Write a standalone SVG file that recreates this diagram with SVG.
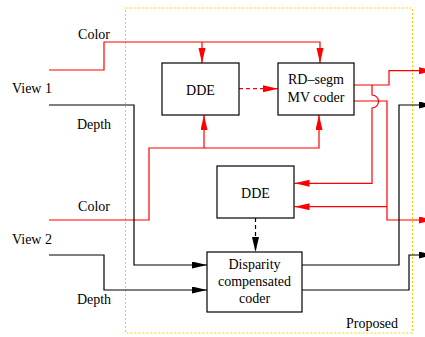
<svg xmlns="http://www.w3.org/2000/svg" width="425" height="337" viewBox="0 0 425 337">
<style>
text{font-family:"Liberation Serif","Times New Roman",serif;font-size:14px;fill:#000}
.box{fill:#fff;stroke:#000;stroke-width:1.2}
.r{fill:none;stroke:#f00;stroke-width:1.2}
.k{fill:none;stroke:#000;stroke-width:1.2}
.rd{fill:none;stroke:#f00;stroke-width:1.2;stroke-dasharray:4 3}
.kd{fill:none;stroke:#000;stroke-width:1.2;stroke-dasharray:4 3}
.ra{marker-end:url(#ar)}
.ka{marker-end:url(#ak)}
.c{text-anchor:middle}
</style>
<defs>
<marker id="ar" markerUnits="userSpaceOnUse" markerWidth="16" markerHeight="8" refX="15" refY="3.5" orient="auto"><path d="M0,0 L15,3.5 L0,7 z" fill="#f00"/></marker>
<marker id="ak" markerUnits="userSpaceOnUse" markerWidth="16" markerHeight="8" refX="15" refY="3.5" orient="auto"><path d="M0,0 L15,3.5 L0,7 z" fill="#000"/></marker>
</defs>
<rect x="0" y="0" width="425" height="337" fill="#fff"/>
<g id="proposed">
<rect x="125.5" y="8" width="287" height="325" fill="none" stroke="#fc0" stroke-width="1" stroke-dasharray="2 2"/>
<text x="372" y="328" class="c">Proposed</text>
</g>
<g id="labels">
<text x="94" y="38.5" class="c">Color</text>
<text x="12" y="93">View 1</text>
<text x="94" y="128.5" class="c">Depth</text>
<text x="94" y="210.5" class="c">Color</text>
<text x="12" y="244">View 2</text>
<text x="94" y="304" class="c">Depth</text>
</g>
<g id="connectors">
<path class="r ra" d="M49,70 H104 V42 H320 V63"/>
<path class="r ra" d="M202,42 V63"/>
<path class="r ra" d="M49,220 H149 V148 H319 V115"/>
<path class="r ra" d="M204,148 V115"/>
<path class="k ka" d="M49,105 H134 V265 H207"/>
<path class="k ka" d="M49,255 H104 V290 H207"/>
<path class="rd ra" d="M239,88.7 H278"/>
<path class="r ra" d="M354,85 H389 V70.7 H434"/>
<path class="r ra" d="M354,101 H387 V220 H434"/>
<path class="r ra" d="M372,85 V95 A6.5,6.5 0 0 1 372,108 V183.3 H294.5"/>
<path class="r ra" d="M387,206.7 H294.5"/>
<path class="kd ka" d="M255.5,218 V252"/>
<path class="k ka" d="M302,265 H399 V105 H434"/>
<path class="k ka" d="M302,290 H409 V255 H434"/>
</g>
<g id="dde1">
<rect class="box" x="162" y="63" width="77" height="52"/>
<text x="200.5" y="95" class="c">DDE</text>
</g>
<g id="rdsegm">
<rect class="box" x="278" y="63" width="76" height="52"/>
<text x="316" y="84" class="c">RD–segm</text>
<text x="316" y="101.5" class="c">MV coder</text>
</g>
<g id="dde2">
<rect class="box" x="217" y="166" width="77" height="52"/>
<text x="255.5" y="198" class="c">DDE</text>
</g>
<g id="disparity">
<rect class="box" x="207" y="252" width="95" height="60"/>
<text x="254.5" y="269" class="c">Disparity</text>
<text x="254.5" y="286" class="c">compensated</text>
<text x="254.5" y="303" class="c">coder</text>
</g>
</svg>
